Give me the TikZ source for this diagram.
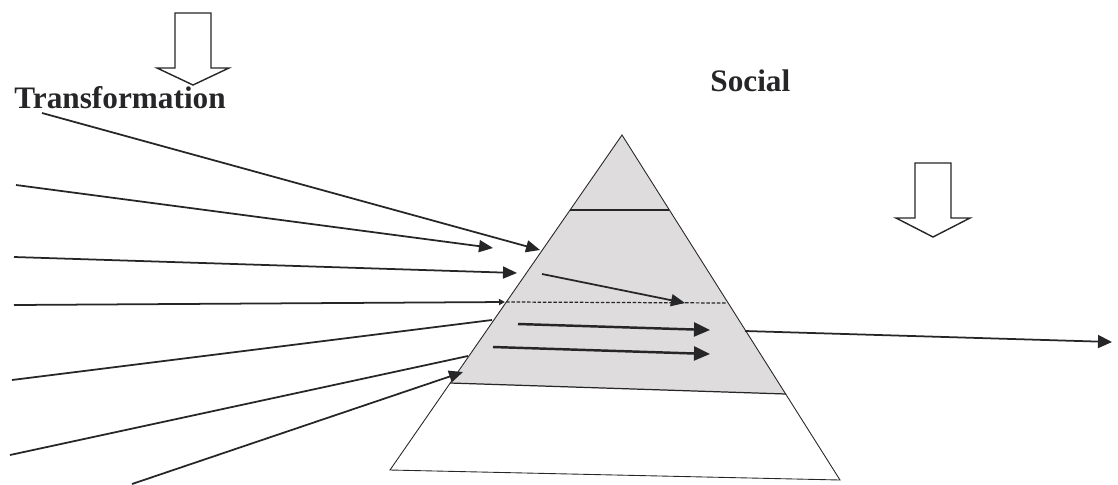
\documentclass[tikz,border=0pt]{standalone}
\usepackage{fontspec}
\setmainfont{Liberation Serif}
\usetikzlibrary{arrows.meta}
\definecolor{inkgray}{RGB}{38,38,40}
\definecolor{prismgray}{RGB}{222,220,220}

\begin{document}
\begin{tikzpicture}[x=0.02cm,y=-0.02cm,font=\fontsize{17.8}{20}\selectfont\bfseries,
    ray/.style={inkgray,line width=1pt},
    rayarrow/.style={ray,-{Triangle[length=0.28cm,width=0.24cm]}},
    bigarrow/.style={inkgray,line width=1.4pt,-{Triangle[length=0.32cm,width=0.28cm]}},
    hollowdown/.style={draw=inkgray,line width=0.8pt,fill=white}]
    \useasboundingbox (0,0) rectangle (1118,484);
    % pyramid
    \coordinate (apex) at (622,135);
    \coordinate (bl) at (390,470);
    \coordinate (br) at (840,480);
    \coordinate (l1a) at (570,210);
    \coordinate (l1b) at (669,210);
    \coordinate (l2a) at (506,302);
    \coordinate (l2b) at (727,303);
    \coordinate (l3a) at (450,383);
    \coordinate (l3b) at (786,394);
    \fill[prismgray] (apex)--(l3a)--(l3b)--cycle;
    \draw[inkgray,line width=0.5pt] (apex)--(bl)--(br)--cycle;
    \draw[inkgray,line width=0.7pt] (l1a)--(l1b);
    \draw[inkgray,line width=0.7pt,dash pattern=on 2pt off 1pt] (l2a)--(l2b);
    \draw[inkgray,line width=0.7pt] (l3a)--(l3b);
    % labels
    \node[anchor=base west,inner sep=0,text=inkgray] (transf) at (14,108) {Transformation};
    \node[anchor=base west,inner sep=0,text=inkgray] (social) at (710,91) {Social};
    % hollow arrows
    \coordinate (tdown) at (193,13);
    \coordinate (rdown) at (933,163);
    \draw[hollowdown] (tdown) ++(-18,0) -- ++(0,55) -- ++(-18,0) -- ++(36,17)
      -- ++(36,-17) -- ++(-18,0) -- ++(0,-55) -- cycle;
    \draw[hollowdown] (rdown) ++(-18,0) -- ++(0,55) -- ++(-19,0) -- ++(37,19)
      -- ++(37,-19) -- ++(-19,0) -- ++(0,-55) -- cycle;
    % rays coming in
    \coordinate (s1) at (42,113);
    \coordinate (e1) at (540,250);
    \coordinate (s2) at (16,185);
    \coordinate (e2) at (493,248);
    \coordinate (s3) at (14,257);
    \coordinate (e3) at (517,273);
    \coordinate (s4) at (14,305);
    \coordinate (e4) at (505,302);
    \coordinate (s5) at (12,380);
    \coordinate (e5) at (492,320);
    \coordinate (s6) at (10,455);
    \coordinate (e6) at (468,356);
    \coordinate (s7) at (132,484);
    \coordinate (e7) at (463,372);
    \draw[rayarrow] (s1)--(e1);
    \draw[rayarrow] (s2)--(e2);
    \draw[rayarrow] (s3)--(e3);
    \draw[ray,-{Triangle[length=0.12cm,width=0.12cm]}] (s4)--(e4);
    \draw[ray] (s5)--(e5);
    \draw[ray] (s6)--(e6);
    \draw[rayarrow] (s7)--(e7);
    % rays inside
    \coordinate (ia) at (542,274);
    \coordinate (ja) at (685,303);
    \coordinate (ib) at (518,324);
    \coordinate (jb) at (710,330);
    \coordinate (ic) at (493,347);
    \coordinate (jc) at (710,354);
    \draw[rayarrow] (ia)--(ja);
    \draw[bigarrow] (ib)--(jb);
    \draw[bigarrow] (ic)--(jc);
    % ray going out
    \coordinate (o1) at (745,331);
    \coordinate (o2) at (1112,342);
    \draw[inkgray,line width=1pt,-{Triangle[length=0.28cm,width=0.26cm]}] (o1)--(o2);
  \end{tikzpicture}
\end{document}
